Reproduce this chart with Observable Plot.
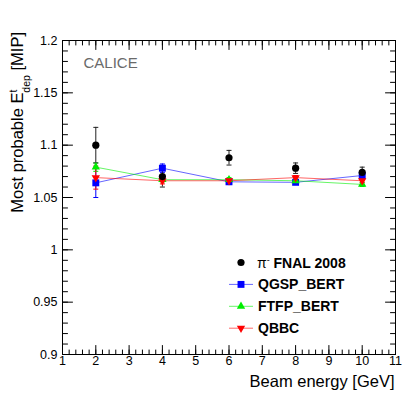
<!DOCTYPE html>
<html><head><meta charset="utf-8">
<script src="https://cdn.jsdelivr.net/npm/d3@7"></script>
<script src="https://cdn.jsdelivr.net/npm/@observablehq/plot@0.6"></script>
<style>body{margin:0;background:#fff}</style>
</head><body><div id="chart"></div>
<script>
// ---- data ----
const energies = [2, 4, 6, 8, 10];
const dataVals = [1.100, 1.070, 1.088, 1.078, 1.074];
const dataErr  = [0.017, 0.010, 0.007, 0.005, 0.005];
const qgspVals = [1.064, 1.078, 1.065, 1.0645, 1.071];
const qgspErr  = [0.014, 0.004, 0.002, 0.002, 0.002];
const ftfpVals = [1.079, 1.067, 1.067, 1.066, 1.0625];
const ftfpErr  = [0.004, 0.002, 0.002, 0.002, 0.002];
const qbbcVals = [1.069, 1.066, 1.066, 1.069, 1.066];
const qbbcErr  = [0.011, 0.003, 0.002, 0.002, 0.002];

const xMajor = [1, 2, 3, 4, 5, 6, 7, 8, 9, 10, 11];
const xTickLabels = ["1","2","3","4","5","6","7","8","9","10","11"];
const yMajor = [0.9, 0.95, 1.0, 1.05, 1.1, 1.15, 1.2];
const yTickLabels = ["0.9","0.95","1","1.05","1.1","1.15","1.2"];
const xMinor = d3.range(0, 51).map(i => 1 + i * 0.2);
const yMinor = d3.range(0, 31).map(i => 0.9 + i * 0.01);

const seriesNames = ["QGSP_BERT", "FTFP_BERT", "QBBC"];
const seriesColors = ["#0000ff", "#00ee00", "#ff0000"];
const dataName = "FNAL 2008";

const FONT = "'Liberation Sans', Arial, Helvetica, sans-serif";

const toRows = (vals, errs) => energies.map((x, i) => ({x, y: vals[i], e: errs[i]}));
const dataRows = toRows(dataVals, dataErr);
const simRows = [toRows(qgspVals, qgspErr), toRows(ftfpVals, ftfpErr), toRows(qbbcVals, qbbcErr)];

const lineShape = {draw(ctx, l) { ctx.moveTo(0, 0); ctx.lineTo(0, -l); }};
const capSymbol = {draw(ctx, size) { const w = Math.sqrt(size / Math.PI); ctx.moveTo(-w, 0); ctx.lineTo(w, 0); }};

const tickMarks = [];
for (const [vals, len] of [[yMajor, 10], [yMinor, 5]]) {
  tickMarks.push(Plot.vector(vals, {y: d => d, frameAnchor: "left", rotate: 90, length: len, anchor: "start", shape: lineShape, stroke: "black", strokeWidth: 1}));
  tickMarks.push(Plot.vector(vals, {y: d => d, frameAnchor: "right", rotate: -90, length: len, anchor: "start", shape: lineShape, stroke: "black", strokeWidth: 1}));
}
for (const [vals, len] of [[xMajor, 9], [xMinor, 4.5]]) {
  tickMarks.push(Plot.vector(vals, {x: d => d, frameAnchor: "bottom", rotate: 0, length: len, anchor: "start", shape: lineShape, stroke: "black", strokeWidth: 1}));
  tickMarks.push(Plot.vector(vals, {x: d => d, frameAnchor: "top", rotate: 180, length: len, anchor: "start", shape: lineShape, stroke: "black", strokeWidth: 1}));
}

const errMarks = (rows, color) => [
  Plot.ruleX(rows, {x: "x", y1: d => d.y - d.e, y2: d => d.y + d.e, stroke: color, strokeWidth: 1}),
  Plot.dot(rows, {x: "x", y: d => d.y - d.e, symbol: capSymbol, r: 2.5, stroke: color, fill: "none", strokeWidth: 1}),
  Plot.dot(rows, {x: "x", y: d => d.y + d.e, symbol: capSymbol, r: 2.5, stroke: color, fill: "none", strokeWidth: 1})
];

const simMarks = [];
simRows.forEach((rows, k) => {
  simMarks.push(Plot.line(rows, {x: "x", y: "y", stroke: seriesColors[k], strokeWidth: 1, strokeOpacity: 0.6}));
  simMarks.push(...errMarks(rows, seriesColors[k]));
});
const simDots = [
  Plot.dot(simRows[0], {x: "x", y: "y", symbol: "square", r: 3.9, fill: seriesColors[0], stroke: "none"}),
  Plot.dot(simRows[1], {x: "x", y: "y", symbol: "triangle", r: 3.1, fill: seriesColors[1], stroke: "none"}),
  Plot.dot(simRows[2], {x: "x", y: "y", symbol: "triangle", rotate: 180, r: 3.1, fill: seriesColors[2], stroke: "none"})
];

const svg = Plot.plot({
  width: 415, height: 395,
  marginLeft: 62, marginRight: 20, marginTop: 40, marginBottom: 41,
  x: {domain: [1, 11]},
  y: {domain: [0.9, 1.2]},
  style: {fontFamily: FONT, background: "white", color: "black"},
  marks: [
    Plot.frame({stroke: "black"}),
    ...tickMarks,
    Plot.axisX(xMajor, {tickSize: 0, tickPadding: 2, fontSize: 12.5, label: null, tickFormat: d => xTickLabels[xMajor.indexOf(d)]}),
    Plot.axisY(yMajor, {tickSize: 0, tickPadding: 5, fontSize: 12.5, label: null, tickFormat: d => yTickLabels[yMajor.indexOf(d)]}),
    ...simMarks,
    ...errMarks(dataRows, "#222"),
    ...simDots,
    Plot.dot(dataRows, {x: "x", y: "y", r: 3.6, fill: "black", stroke: "none"}),
    Plot.text(["CALICE"], {frameAnchor: "top-left", dx: 21, dy: 27, lineAnchor: "bottom", textAnchor: "start", fontSize: 15, fill: "#6a6a6a"}),
    Plot.text(["Beam energy [GeV]"], {frameAnchor: "bottom-right", dx: -1, dy: 32, lineAnchor: "bottom", textAnchor: "end", fontSize: 16.5, fill: "black"})
  ]
});

const s = d3.select(svg);
// y-axis title with super/subscripts
const yt = s.append("text")
  .attr("transform", "translate(22.5,32) rotate(-90)")
  .attr("text-anchor", "end")
  .style("font-family", FONT).style("font-size", "16.5px").style("white-space", "pre")
  .attr("fill", "black");
yt.append("tspan").text("Most probable E");
yt.append("tspan").attr("dy", -6).style("font-size", "10.5px").text("t");
yt.append("tspan").attr("dx", -3).attr("dy", 13).style("font-size", "10.5px").text("dep");
yt.append("tspan").attr("dy", -7).text(" [MIP]");

// legend
const legY0 = 262.5, legStep = 21.9, legX = 241;
const lg = s.append("g").style("font-family", FONT).attr("text-anchor", "start");
// data row
lg.append("circle").attr("cx", legX).attr("cy", legY0).attr("r", 3.6).attr("fill", "black");
const t0 = lg.append("text").attr("x", 257).attr("y", legY0).attr("dy", "0.36em").attr("text-anchor", "start").style("font-size", "14px").style("white-space", "pre");
t0.append("tspan").text("π");
t0.append("tspan").attr("dy", -5).style("font-size", "9px").text("-");
t0.append("tspan").attr("dy", 5).style("font-weight", "bold").text(" " + dataName);
const legSyms = [d3.symbolSquare, d3.symbolTriangle, d3.symbolTriangle];
const legSizes = [3.9, 3.1, 3.1];
seriesNames.forEach((name, k) => {
  const y = legY0 + legStep * (k + 1);
  lg.append("line").attr("x1", 229).attr("x2", 253).attr("y1", y).attr("y2", y)
    .attr("stroke", seriesColors[k]).attr("stroke-opacity", 0.6);
  lg.append("path").attr("d", d3.symbol(legSyms[k], legSizes[k] * legSizes[k] * Math.PI)())
    .attr("transform", `translate(${legX},${y})` + (k === 2 ? " rotate(180)" : ""))
    .attr("fill", seriesColors[k]);
  lg.append("text").attr("x", 258).attr("y", y).attr("dy", "0.36em").attr("text-anchor", "start")
    .style("font-size", "14px").style("font-weight", "bold").text(name);
});

document.getElementById("chart").appendChild(svg);
</script>
</body></html>
